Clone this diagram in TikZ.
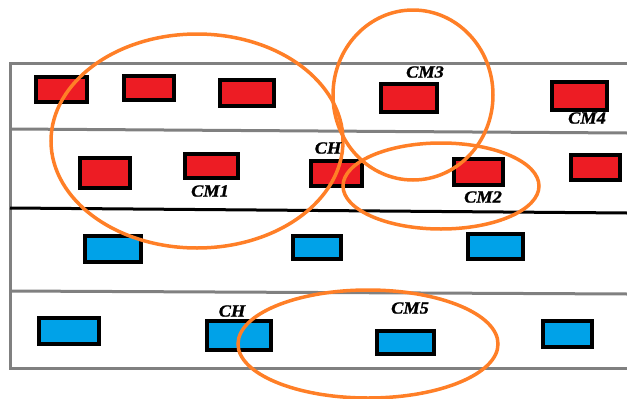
\documentclass[tikz,border=0pt]{standalone}
\usepackage{fontspec}
\setmainfont{Liberation Serif}
\newfontfamily\tagfont[BoldItalicFont={Liberation Serif Bold Italic}, FakeBold=1.2, FakeStretch=1.08]{Liberation Serif}
\usetikzlibrary{shapes.geometric}
\definecolor{cellred}{HTML}{ED1C24}
\definecolor{cellblue}{HTML}{00A2E8}
\definecolor{zoneorange}{HTML}{FF7F27}
\definecolor{lanegray}{HTML}{808080}
\tikzset{
  lane/.style={draw=lanegray, line width=3pt},
  divider/.style={draw=black, line width=3pt},
  cell/.style={draw=black, line width=4pt, inner sep=0pt, outer sep=0pt},
  redcell/.style={cell, fill=cellred},
  bluecell/.style={cell, fill=cellblue},
  zone/.style={ellipse, draw=zoneorange, line width=3.5pt, inner sep=0pt, outer sep=0pt},
  tag/.style={font=\tagfont\fontsize{17}{17}\selectfont\bfseries\itshape, inner sep=0pt}
}
\begin{document}
\begin{tikzpicture}[x=1pt, y=-1pt]
\useasboundingbox (0,0) rectangle (627,399);

% road frame and lanes
\coordinate (tl) at (10,63);
\coordinate (tr) at (627,63);
\coordinate (bl) at (10,368);
\coordinate (br) at (627,368);
\draw[lane] (tr) -- (tl) -- (bl) -- (br);
\coordinate (l2a) at (10,129);  \coordinate (l2b) at (627,133);
\coordinate (l3a) at (10,208);  \coordinate (l3b) at (627,213);
\coordinate (l4a) at (10,291);  \coordinate (l4b) at (627,294);
\draw[lane] (l2a) -- (l2b);
\draw[divider] (l3a) -- (l3b);
\draw[lane] (l4a) -- (l4b);

% red vehicles
\node[redcell, minimum width=51pt, minimum height=25pt] (r1) at (61.5,89.5) {};
\node[redcell, minimum width=50pt, minimum height=24pt] (r2) at (149,88) {};
\node[redcell, minimum width=54pt, minimum height=26pt] (r3) at (247,93) {};
\node[redcell, minimum width=50pt, minimum height=30pt] (r4) at (105,173) {};
\node[redcell, minimum width=53pt, minimum height=24pt] (r5) at (211.5,166) {};
\node[redcell, minimum width=51pt, minimum height=25pt] (r6) at (336.5,173.5) {};
\node[redcell, minimum width=56pt, minimum height=28pt] (r7) at (409,98) {};
\node[redcell, minimum width=55pt, minimum height=28pt] (r8) at (579.5,96) {};
\node[redcell, minimum width=49pt, minimum height=26pt] (r9) at (478.5,172) {};
\node[redcell, minimum width=49pt, minimum height=25pt] (r10) at (595.5,167.5) {};

% blue vehicles
\node[bluecell, minimum width=56pt, minimum height=26pt] (b1) at (113,249) {};
\node[bluecell, minimum width=48pt, minimum height=23pt] (b2) at (317,247.5) {};
\node[bluecell, minimum width=55pt, minimum height=25pt] (b3) at (495.5,246.5) {};
\node[bluecell, minimum width=60pt, minimum height=26pt] (b4) at (69,331) {};
\node[bluecell, minimum width=64pt, minimum height=29pt] (b5) at (239,335.5) {};
\node[bluecell, minimum width=57pt, minimum height=23pt] (b6) at (405.5,342.5) {};
\node[bluecell, minimum width=49pt, minimum height=26pt] (b7) at (567.5,334) {};

% cluster zones
\node[zone, minimum width=292pt, minimum height=214pt] (z1) at (197,141) {};
\node[zone, minimum width=160pt, minimum height=170pt] (z3) at (413,95) {};
\node[zone, minimum width=196pt, minimum height=86pt] (z2) at (441,186) {};
\node[zone, minimum width=260pt, minimum height=108pt] (z5) at (368,344) {};

% labels
\node[tag] (t1) at (210,191) {CM1};
\node[tag] (t2) at (483,197) {CM2};
\node[tag] (t3) at (425,72) {CM3};
\node[tag] (t4) at (587,118) {CM4};
\node[tag] (t5) at (410,308) {CM5};
\node[tag] (h1) at (328,148) {CH};
\node[tag] (h2) at (232,311) {CH};
\end{tikzpicture}
\end{document}
